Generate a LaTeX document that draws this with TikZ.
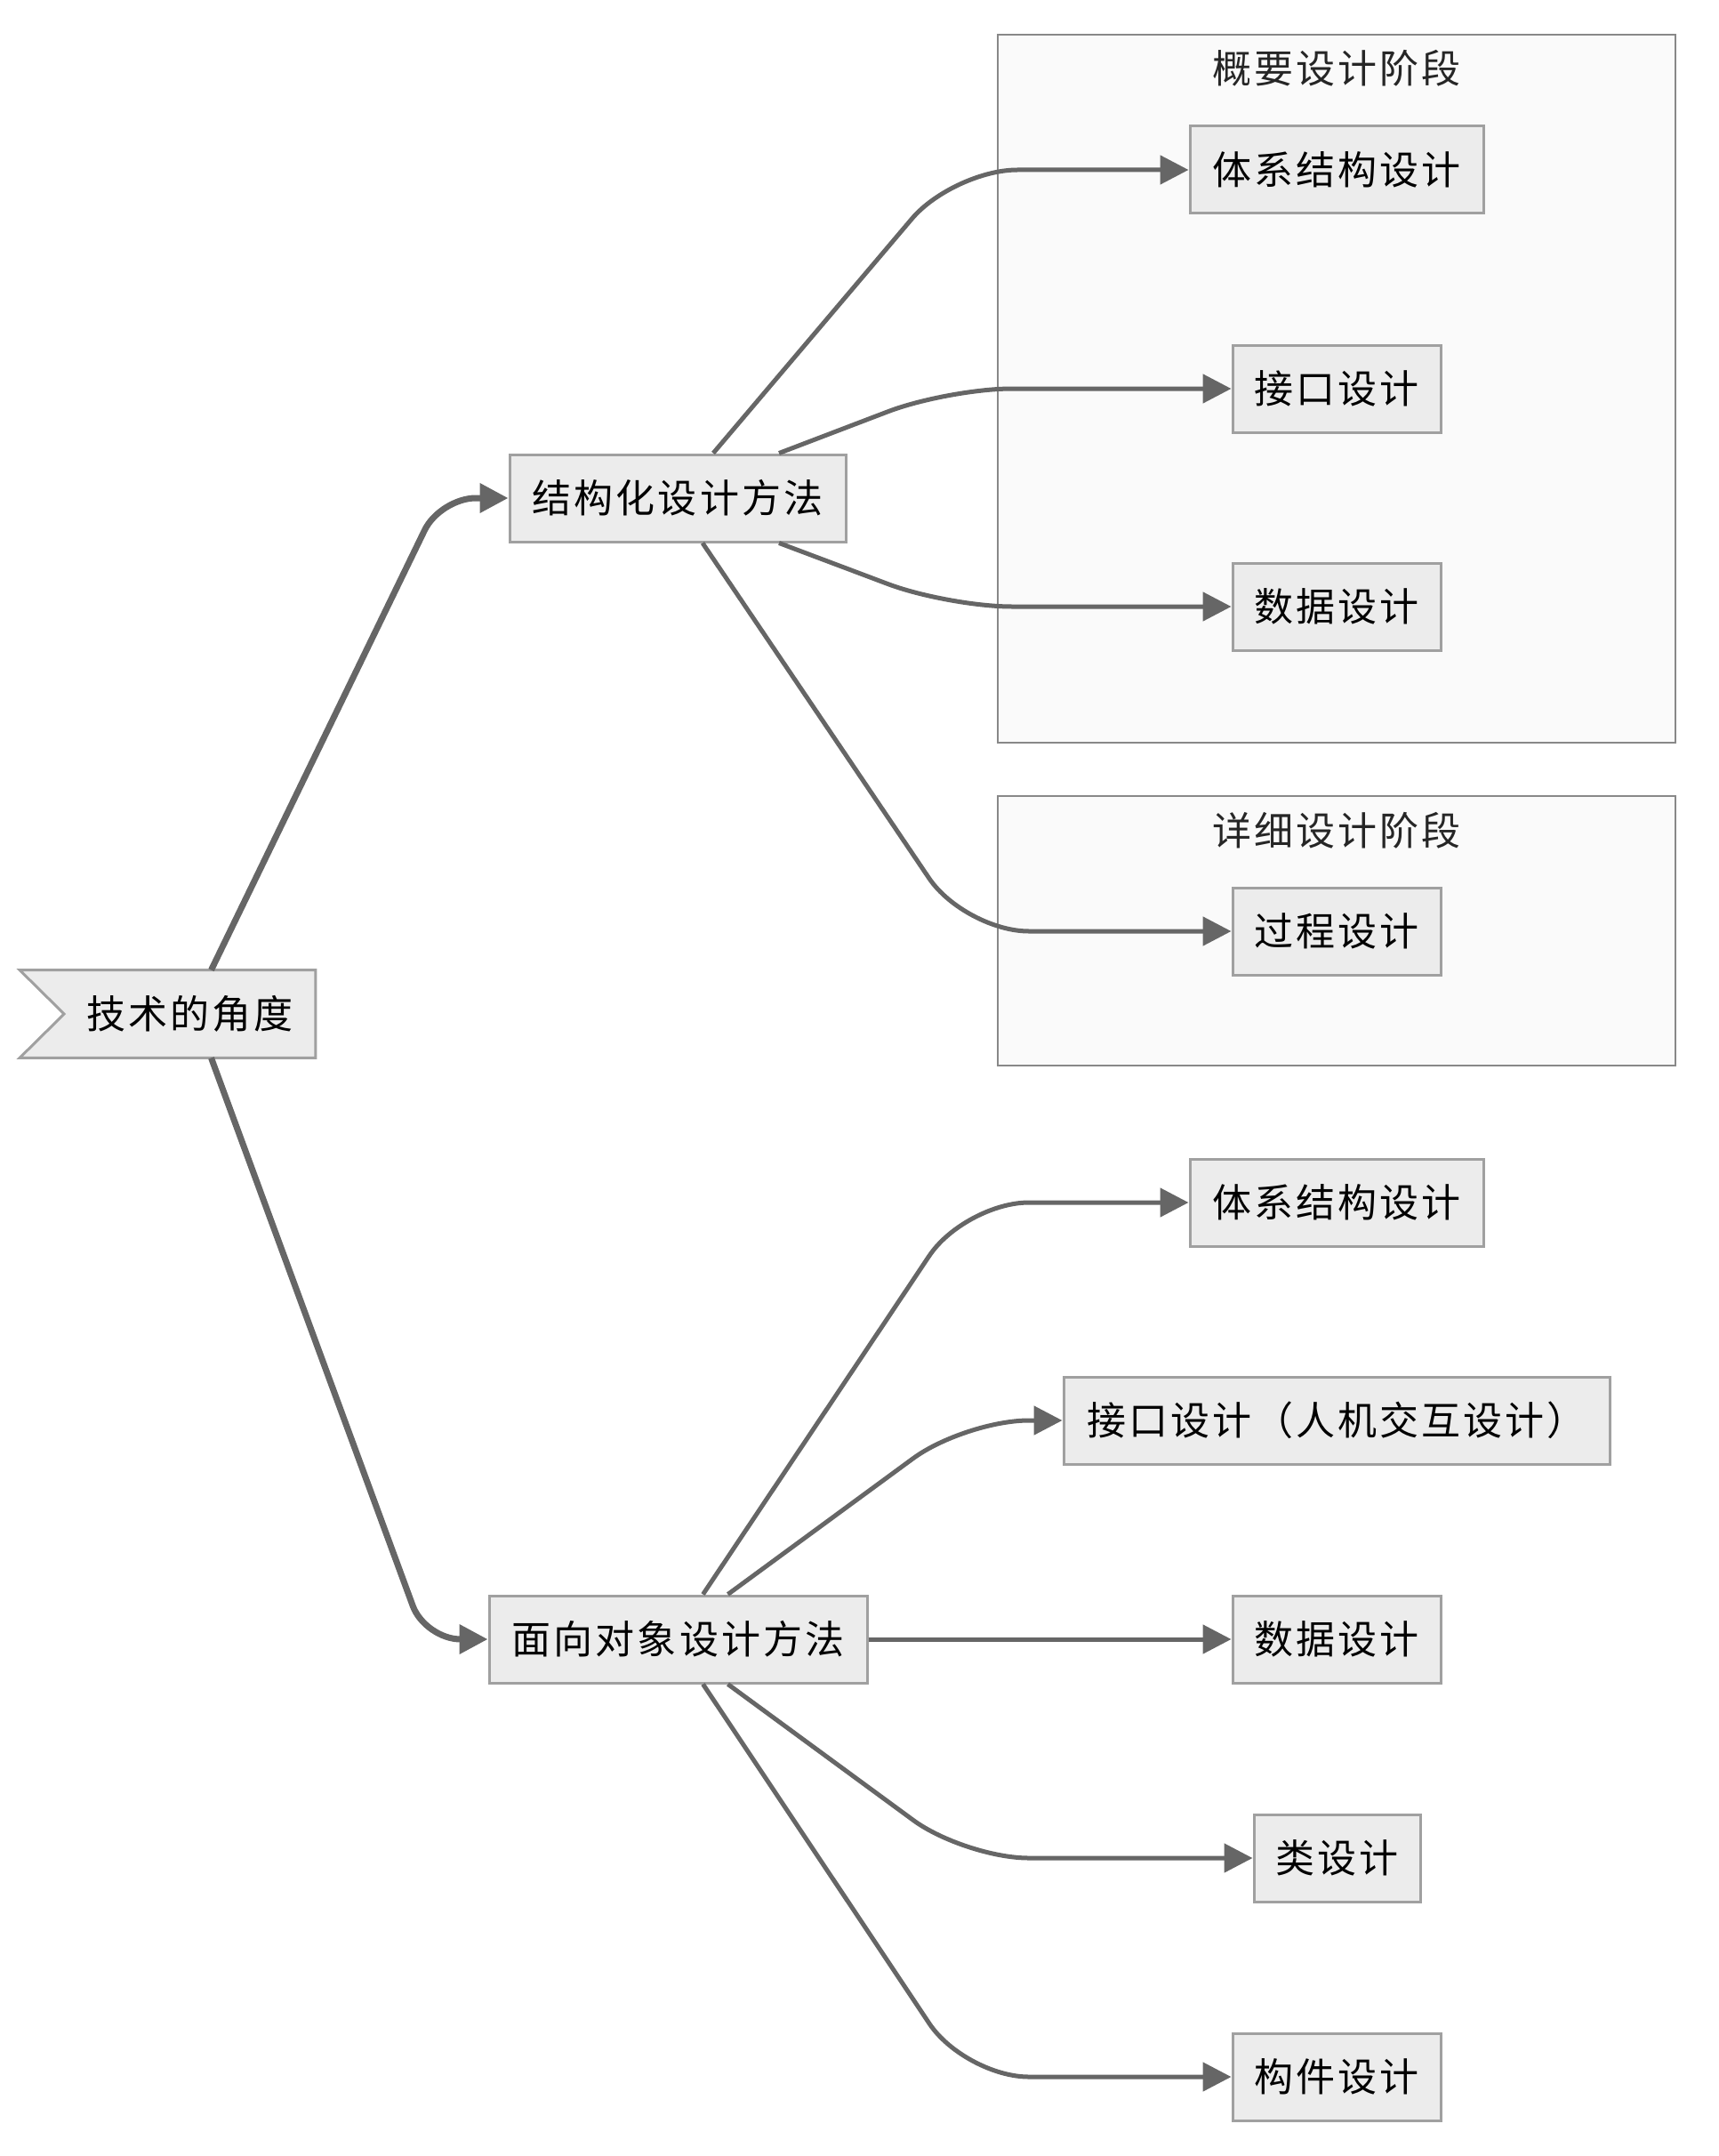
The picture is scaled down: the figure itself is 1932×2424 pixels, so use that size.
\documentclass[tikz,border=0pt]{standalone}
\usepackage{fontspec}
\newfontfamily\cjk[LetterSpace=7]{Noto Sans CJK SC}
\usetikzlibrary{arrows.meta}
\definecolor{nodefill}{HTML}{ECECEC}
\definecolor{nodeline}{HTML}{A0A0A0}
\definecolor{clfill}{HTML}{FAFAFA}
\definecolor{clline}{HTML}{888888}
\definecolor{edgecol}{HTML}{666666}
\pgfdeclarelayer{bg}
\pgfsetlayers{bg,main}
\begin{document}
\begin{tikzpicture}[x=0.5pt,y=-0.5pt,
  txt/.style={font=\cjk\fontsize{22}{26}\selectfont, text=black},
  box/.style={txt, draw=nodeline, line width=1.5pt, fill=nodefill, minimum height=49pt, inner sep=0pt},
  rootlabel/.style={txt, minimum height=49pt, minimum width=141pt, inner sep=0pt},
  rootshape/.style={draw=nodeline, line width=1.5pt, fill=nodefill},
  cluster/.style={draw=clline, line width=1.2pt, fill=clfill, inner sep=0pt, minimum width=381pt},
  ctitle/.style={txt, text=black!85},
  link/.style={draw=edgecol, line width=2.5pt, rounded corners=36pt, -{Triangle[length=16pt,width=16pt]}},
  thicklink/.style={link, line width=3.5pt, rounded corners=20pt}]
\useasboundingbox (0,0) rectangle (1932,2424);

% clusters
\begin{pgfonlayer}{bg}
\node[cluster, minimum height=398pt] (g1) at (1503,437) {};
\node[cluster, minimum height=151.5pt] (g2) at (1503,1046.5) {};
\end{pgfonlayer}
\node[ctitle] (t1) at (1503,77) {概要设计阶段};
\node[ctitle] (t2) at (1503,934) {详细设计阶段};

% nodes
\node[rootlabel] (root) at (213.5,1140) {技术的角度};
\begin{pgfonlayer}{bg}
\draw[rootshape] (root.north east) -- (root.south east) -- ([xshift=-25pt]root.south west) -- (root.west) -- ([xshift=-25pt]root.north west) -- cycle;
\end{pgfonlayer}

\node[box, minimum width=189pt] (A) at (762,560) {结构化设计方法};
\node[box, minimum width=212.5pt] (B) at (762.5,1843) {面向对象设计方法};

\node[box, minimum width=165pt] (c1) at (1503,191) {体系结构设计};
\node[box, minimum width=117pt] (c2) at (1503,437) {接口设计};
\node[box, minimum width=117pt] (c3) at (1503,682) {数据设计};
\node[box, minimum width=117pt] (c4) at (1503,1047) {过程设计};

\node[box, minimum width=165pt] (d1) at (1503,1352) {体系结构设计};
\node[box, minimum width=307pt] (d2) at (1503,1597) {接口设计（人机交互设计）};
\node[box, minimum width=117pt] (d3) at (1503,1843) {数据设计};
\node[box, minimum width=93.5pt] (d4) at (1503.5,2089) {类设计};
\node[box, minimum width=117pt] (d5) at (1503,2335) {构件设计};

% edges
\draw[thicklink] ([xshift=12pt]root.north) -- (495,0 |- A.west) -- (A.west);
\draw[thicklink] ([xshift=12pt]root.south) -- (478,0 |- B.west) -- (B.west);

\draw[link] ([xshift=20pt]A.north) -- (1072,0 |- c1.west) -- (c1.west);
\draw[link] ([xshift=57pt]A.north) -- (1066,0 |- c2.west) -- (c2.west);
\draw[link] ([xshift=57pt]A.south) -- (1066,0 |- c3.west) -- (c3.west);
\draw[link] ([xshift=14pt]A.south) -- (1085,0 |- c4.west) -- (c4.west);

\draw[link] ([xshift=14pt]B.north) -- (1085,0 |- d1.west) -- (d1.west);
\draw[link] ([xshift=28pt]B.north) -- (1085,0 |- d2.west) -- (d2.west);
\draw[link] (B.east) -- (d3.west);
\draw[link] ([xshift=28pt]B.south) -- (1085,0 |- d4.west) -- (d4.west);
\draw[link] ([xshift=14pt]B.south) -- (1085,0 |- d5.west) -- (d5.west);
\end{tikzpicture}
\end{document}
